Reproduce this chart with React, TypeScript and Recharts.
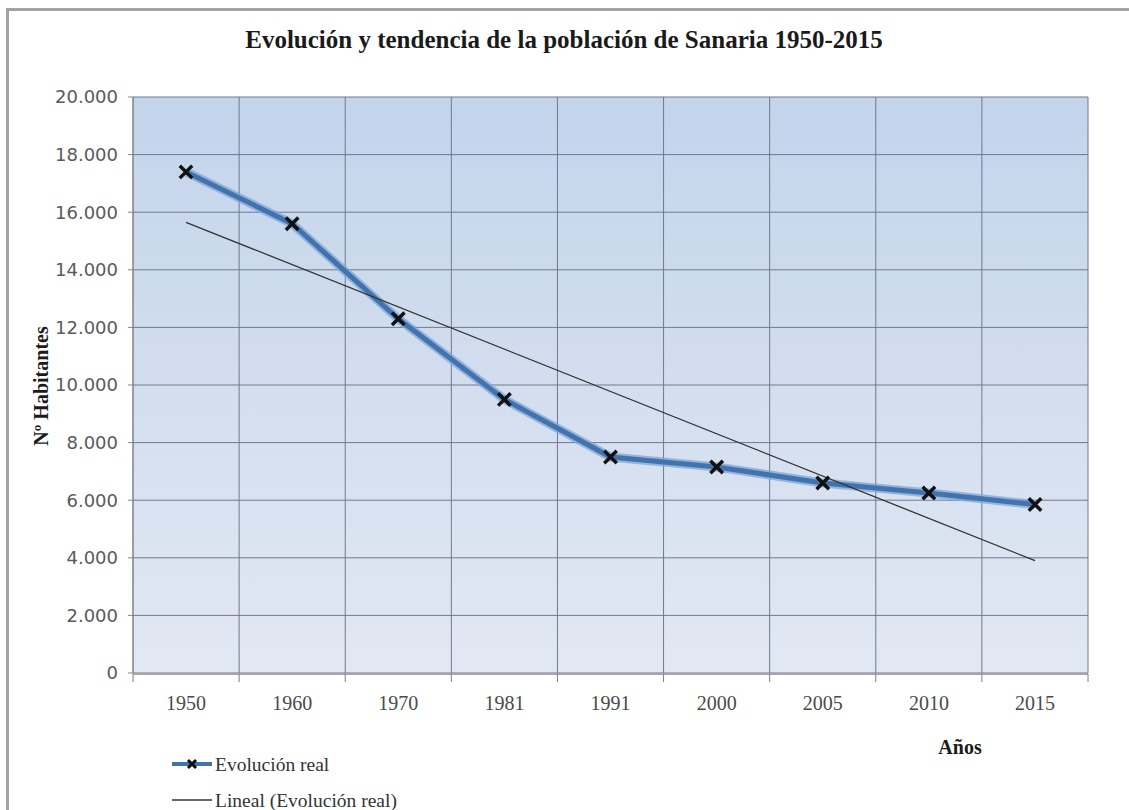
import { LineChart, Line, XAxis, YAxis, CartesianGrid } from 'recharts';

// population by census year
const years = ['1950', '1960', '1970', '1981', '1991', '2000', '2005', '2010', '2015'];
const habitantes = [17400, 15600, 12300, 9500, 7500, 7150, 6600, 6250, 5850];
// linear trend: only the two ends are set, the line joins them
const tendencia: (number | null)[] = [15650, null, null, null, null, null, null, null, 3900];

const yTicks = [0, 2000, 4000, 6000, 8000, 10000, 12000, 14000, 16000, 18000, 20000];
// category boundaries, used for the vertical grid and the x tick marks
const bandEdges = [0, 1, 2, 3, 4, 5, 6, 7, 8, 9];

const data = years.map((year, i) => ({ year, real: habitantes[i], lineal: tendencia[i] }));

const W = 1129;
const H = 810;

const fmtMiles = (v: number) => String(v).replace(/\B(?=(\d{3})+(?!\d))/g, '.');

const Cross = (props: any) => {
  const { cx, cy } = props;
  if (cx == null || cy == null) return null;
  const r = 5;
  return (
    <path
      d={`M${cx - r},${cy - r}L${cx + r},${cy + r}M${cx + r},${cy - r}L${cx - r},${cy + r}`}
      stroke="#111"
      strokeWidth={3.5}
      strokeLinecap="square"
      fill="none"
    />
  );
};

// edge axis carries only tick marks, no labels
const NoLabel = () => <g />;

const serif = 'Liberation Serif, Times New Roman, serif';

export default function App() {
  return (
    <div style={{ position: 'absolute', left: 0, top: 0, width: W, height: H, overflow: 'hidden', background: '#fff' }}>
      {/* chart frame */}
      <div
        style={{
          position: 'absolute',
          left: 6,
          top: 8,
          width: W + 20,
          height: H + 20,
          borderLeft: '3px solid #a3a3a3',
          borderTop: '3px solid #a3a3a3',
          boxSizing: 'border-box',
        }}
      />
      <LineChart width={W} height={H} data={data} margin={{ top: 97, right: 41, bottom: 135, left: 73 }}>
        <defs>
          <linearGradient id="plotBg" x1="0" y1="0" x2="0" y2="1">
            <stop offset="0%" stopColor="#c3d4eb" />
            <stop offset="100%" stopColor="#e2e8f3" />
          </linearGradient>
        </defs>
        <CartesianGrid
          xAxisId="edges"
          stroke="#6f7a8d"
          strokeWidth={1}
          fill="url(#plotBg)"
          fillOpacity={1}
        />
        <XAxis
          xAxisId="edges"
          type="number"
          dataKey={() => 0}
          domain={[0, 9]}
          ticks={bandEdges}
          interval={0}
          allowDataOverflow
          height={1}
          tick={NoLabel}
          tickSize={8}
          axisLine={{ stroke: '#a6a6a6', strokeWidth: 2 }}
          tickLine={{ stroke: '#7f7f7f' }}
        />
        <XAxis
          dataKey="year"
          height={1}
          padding={{ left: 53, right: 53 }}
          axisLine={false}
          tickLine={false}
          tickSize={0}
          tickMargin={23}
          interval={0}
          tick={{ fontFamily: serif, fontSize: 20, fill: '#4a4a4a' }}
        />
        <YAxis
          domain={[0, 20000]}
          ticks={yTicks}
          width={60}
          tickSize={5}
          tickMargin={10}
          tickFormatter={fmtMiles}
          axisLine={{ stroke: '#858585' }}
          tickLine={{ stroke: '#858585' }}
          tick={{ fontFamily: 'DejaVu Sans, sans-serif', fontSize: 18, fill: '#5a5a5a' }}
        />
        {/* soft edge under the main series */}
        <Line
          dataKey="real"
          stroke="#7ea6d8"
          strokeWidth={9}
          strokeOpacity={0.75}
          dot={false}
          activeDot={false}
          isAnimationActive={false}
        />
        <Line
          dataKey="real"
          stroke="#4373ad"
          strokeWidth={5}
          dot={<Cross />}
          activeDot={false}
          isAnimationActive={false}
        />
        <Line
          dataKey="lineal"
          stroke="#333"
          strokeWidth={1.3}
          connectNulls
          dot={false}
          activeDot={false}
          isAnimationActive={false}
        />
      </LineChart>
      <svg width={W} height={H} style={{ position: 'absolute', left: 0, top: 0, pointerEvents: 'none' }}>
        <text x={564} y={48} textAnchor="middle" fontFamily={serif} fontWeight="bold" fontSize={25} fill="#1a1a1a">
          Evolución y tendencia de la población de Sanaria 1950-2015
        </text>
        <text
          transform="translate(48,386) rotate(-90)"
          textAnchor="middle"
          fontFamily={serif}
          fontWeight="bold"
          fontSize={20}
          fill="#1a1a1a"
        >
          Nº Habitantes
        </text>
        <text x={960} y={754} textAnchor="middle" fontFamily={serif} fontWeight="bold" fontSize={20} fill="#1a1a1a">
          Años
        </text>
        {/* legend */}
        <line x1={172} y1={764} x2={212} y2={764} stroke="#4373ad" strokeWidth={4} />
        <path d="M188,760L196,768M196,760L188,768" stroke="#111" strokeWidth={3} />
        <text x={215} y={771} fontFamily={serif} fontSize={19.5} fill="#333">
          Evolución real
        </text>
        <line x1={172} y1={800} x2={212} y2={800} stroke="#333" strokeWidth={1.3} />
        <text x={215} y={807} fontFamily={serif} fontSize={19.5} fill="#333">
          Lineal (Evolución real)
        </text>
      </svg>
    </div>
  );
}
